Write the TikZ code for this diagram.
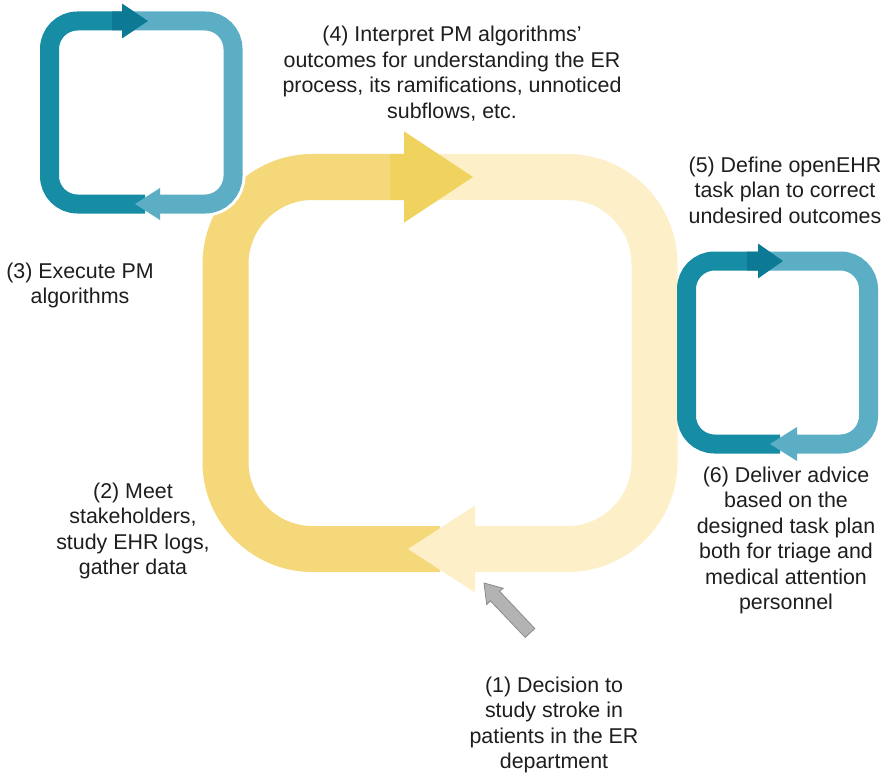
\documentclass[tikz,border=0pt]{standalone}
\usepackage{fontspec}
\setmainfont{Liberation Sans}
\definecolor{ydark}{HTML}{F5D87A}
\definecolor{yarrow}{HTML}{F0D25F}
\definecolor{ylight}{HTML}{FDF0C8}
\definecolor{tdark}{HTML}{168CA5}
\definecolor{tarrow}{HTML}{0C7A94}
\definecolor{tlight}{HTML}{5CAEC5}
\definecolor{txt}{HTML}{1E1E1E}
\definecolor{gfill}{HTML}{B3B3B3}
\definecolor{gline}{HTML}{8C8C8C}
\tikzset{
  bigband/.style={line width=46pt, rounded corners=87pt, line cap=butt},
  smallband/.style={line width=19pt, rounded corners=28pt, line cap=butt},
  halo/.style={line width=25pt, rounded corners=28pt, draw=white},
  label/.style={font=\fontsize{21.4}{25.5}\selectfont, align=center, inner sep=0pt, anchor=north, text=txt},
}
\begin{document}
\begin{tikzpicture}[x=1pt,y=-1pt]
\useasboundingbox[fill=white] (0,0) rectangle (889,773);
% ---------- big yellow loop ----------
\coordinate (BT) at (390,177);
\coordinate (BB) at (475,549);
\draw[bigband, draw=ylight] (BT) -- (654.5,177) -- (654.5,549) -- (BB);
\draw[bigband, draw=ydark] (440,549) -- (225.5,549) -- (225.5,177) -- (BT);
\fill[yarrow] (390,154) -- (404,154) -- (404,131.3) -- (473,177) -- (404,222.7) -- (404,200) -- (390,200) -- cycle;
\fill[ylight] (475,505.5) -- (408,549) -- (475,592.5) -- cycle;
% ---------- small teal loop (3) ----------
\draw[halo] (112,21) -- (233,21) -- (233,204) -- (160,204);
\draw[smallband, draw=tlight] (112,21) -- (233,21) -- (233,204) -- (160,204);
\draw[smallband, draw=tdark] (145,204) -- (49.5,204) -- (49.5,21) -- (112,21);
\fill[tarrow] (112,11.5) -- (122,11.5) -- (122,3.5) -- (148,21) -- (122,38.5) -- (122,30.5) -- (112,30.5) -- cycle;
\fill[tlight] (160,188) -- (135,204) -- (160,220) -- cycle;
% ---------- small teal loop (5)/(6) ----------
\draw[smallband, draw=tlight] (747,261) -- (868.5,261) -- (868.5,444) -- (797,444);
\draw[smallband, draw=tdark] (780,444) -- (686.5,444) -- (686.5,261) -- (747,261);
\fill[tarrow] (747,251.5) -- (758,251.5) -- (758,243.5) -- (783,261) -- (758,278.5) -- (758,270.5) -- (747,270.5) -- cycle;
\fill[tlight] (797,427) -- (770,444) -- (797,461) -- cycle;
% ---------- labels ----------
\node[label] (t4) at (452,26.1) {(4) Interpret PM algorithms'\\outcomes for understanding the ER\\process, its ramifications, unnoticed\\subflows, etc.};
\node[label] (t5) at (785,156.4) {(5) Define openEHR\\task plan to correct\\undesired outcomes};
\node[label] (t3) at (80,262.4) {(3) Execute PM\\algorithms};
\node[label] (t2) at (133,482.4) {(2) Meet\\stakeholders,\\study EHR logs,\\gather data};
\node[label] (t6) at (786,466.4) {(6) Deliver advice\\based on the\\designed task plan\\both for triage and\\medical attention\\personnel};
\node[label] (t1) at (554,676.4) {(1) Decision to\\study stroke in\\patients in the ER\\department};
% ---------- gray pointer arrow ----------
\coordinate (gtip) at (484,583);
\draw[fill=gfill, draw=gline, line width=0.8pt, line join=miter]
  (534.8,628.6) -- (499.5,591.1) -- (503.3,588.3) -- (gtip) -- (486.7,604.5) -- (490.4,600.9) -- (525.2,637.4) -- cycle;
\end{tikzpicture}
\end{document}
